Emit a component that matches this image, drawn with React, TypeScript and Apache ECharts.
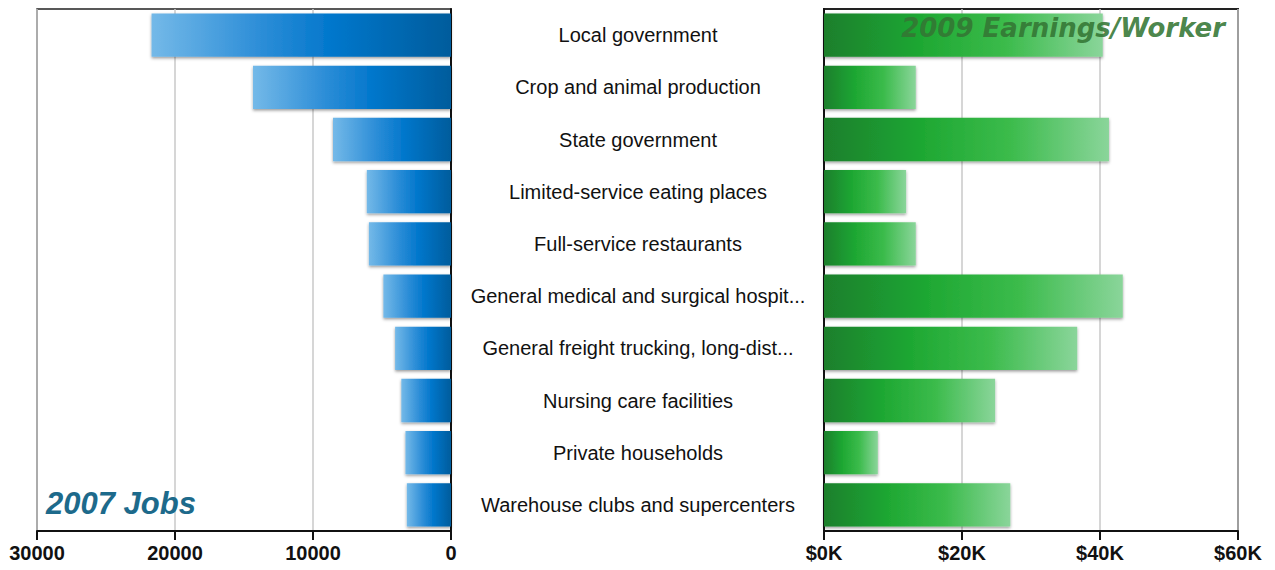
import React, { useEffect, useRef } from "react";
import * as echarts from "echarts";

const categories = [
  "Local government",
  "Crop and animal production",
  "State government",
  "Limited-service eating places",
  "Full-service restaurants",
  "General medical and surgical hospit...",
  "General freight trucking, long-dist...",
  "Nursing care facilities",
  "Private households",
  "Warehouse clubs and supercenters",
];

const jobs2007 = [21700, 14350, 8550, 6100, 5950, 4900, 4050, 3600, 3300, 3200];
const earnings2009 = [40400, 13300, 41300, 11900, 13300, 43300, 36700, 24800, 7800, 27000];

const jobsTicks = [0, 30000, 10000];
const earnTicks = [0, 60000, 20000];

export default function App() {
  const ref = useRef<HTMLDivElement>(null);
  useEffect(() => {
    if (!ref.current) return;
    const chart = echarts.init(ref.current, undefined, { renderer: "svg" });
    const blue = new echarts.graphic.LinearGradient(0, 0, 1, 0, [
      { offset: 0, color: "#74b9e8" },
      { offset: 0.35, color: "#2f8fd8" },
      { offset: 0.6, color: "#0277cc" },
      { offset: 1, color: "#005c9c" },
    ]);
    const green = new echarts.graphic.LinearGradient(0, 0, 1, 0, [
      { offset: 0, color: "#1a7f2c" },
      { offset: 0.35, color: "#1fa833" },
      { offset: 0.65, color: "#3bbb4b" },
      { offset: 1, color: "#8ad59a" },
    ]);
    const axisLabelFont = {
      fontFamily: "Liberation Sans",
      fontWeight: "bold" as const,
      fontSize: 20,
      color: "#111",
      margin: 12,
    };
    chart.setOption({
      animation: false,
      grid: [
        { left: 37, top: 9, width: 414, height: 522, show: true, borderColor: "#222", borderWidth: 1.5 },
        { left: 824, top: 9, width: 414, height: 522, show: true, borderColor: "#222", borderWidth: 2 },
      ],
      xAxis: [
        {
          type: "value",
          gridIndex: 0,
          inverse: true,
          min: jobsTicks[0],
          max: jobsTicks[1],
          interval: jobsTicks[2],
          axisLine: { show: true, lineStyle: { color: "#111", width: 2 } },
          axisTick: { show: true, length: 9, lineStyle: { color: "#111", width: 2 } },
          splitLine: { show: true, lineStyle: { color: "#c8c8c8", width: 1.5 } },
          axisLabel: { ...axisLabelFont, formatter: (v: number) => String(v) },
        },
        {
          type: "value",
          gridIndex: 1,
          min: earnTicks[0],
          max: earnTicks[1],
          interval: earnTicks[2],
          axisLine: { show: true, lineStyle: { color: "#111", width: 2 } },
          axisTick: { show: true, length: 9, lineStyle: { color: "#111", width: 2 } },
          splitLine: { show: true, lineStyle: { color: "#c8c8c8", width: 1.5 } },
          axisLabel: { ...axisLabelFont, formatter: (v: number) => "$" + v / 1000 + "K" },
        },
      ],
      yAxis: [
        {
          type: "category",
          gridIndex: 0,
          data: categories,
          inverse: true,
          position: "right",
          axisLine: { show: true, lineStyle: { color: "#111", width: 2 } },
          axisTick: { show: false },
          axisLabel: {
            align: "center",
            margin: 187,
            fontFamily: "Liberation Sans",
            fontSize: 20,
            color: "#111",
            padding: [4, 0, 0, 0],
          },
        },
        {
          type: "category",
          gridIndex: 1,
          data: categories,
          inverse: true,
          axisLine: { show: true, lineStyle: { color: "#111", width: 2 } },
          axisTick: { show: false },
          axisLabel: { show: false },
        },
      ],
      series: [
        {
          type: "bar",
          xAxisIndex: 0,
          yAxisIndex: 0,
          data: jobs2007,
          barCategoryGap: "17%",
          itemStyle: {
            color: blue,
            shadowColor: "rgba(0,0,0,0.4)",
            shadowBlur: 3,
            shadowOffsetY: 1.5,
          },
        },
        {
          type: "bar",
          xAxisIndex: 1,
          yAxisIndex: 1,
          data: earnings2009,
          barCategoryGap: "17%",
          itemStyle: {
            color: green,
            shadowColor: "rgba(0,0,0,0.4)",
            shadowBlur: 3,
            shadowOffsetY: 1.5,
          },
        },
      ],
      graphic: [
        {
          type: "text",
          left: 46,
          top: 488,
          z: 100,
          style: {
            text: "2007 Jobs",
            fontFamily: "Liberation Sans",
            fontWeight: "bold",
            fontStyle: "italic",
            fontSize: 31,
            fill: "#1d6a8b",
          },
        },
        {
          type: "text",
          right: 50,
          top: 15,
          z: 100,
          style: {
            text: "2009 Earnings/Worker",
            fontFamily: "DejaVu Sans",
            fontWeight: "bold",
            fontStyle: "italic",
            fontSize: 26,
            fill: "rgba(52,118,52,0.9)",
          },
        },
      ],
    });
    return () => chart.dispose();
  }, []);
  return (
    <div
      ref={ref}
      style={{ position: "fixed", left: 0, top: 0, width: 1275, height: 570, background: "#fff" }}
    />
  );
}
